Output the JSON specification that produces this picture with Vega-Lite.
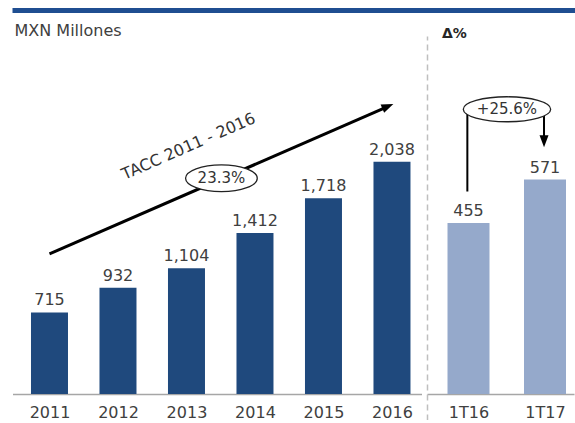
{
  "$schema": "https://vega.github.io/schema/vega-lite/v6.json",
  "padding": {"left": 9.5, "top": 8, "right": 0, "bottom": 0},
  "background": "white",
  "config": {
    "view": {"stroke": null},
    "font": "DejaVu Sans",
    "text": {"font": "DejaVu Sans", "color": "#404040"},
    "title": {"font": "DejaVu Sans", "color": "#404040"}
  },
  "spacing": 10,
  "vconcat": [
    {
      "width": 563,
      "height": 5,
      "data": {"values": [{"linea": "encabezado"}]},
      "mark": {"type": "rule", "color": "#1F4E91", "strokeWidth": 5},
      "encoding": {
        "y": {"datum": 0, "type": "quantitative", "scale": {"domain": [-1, 1]}, "axis": null}
      }
    },
    {
      "spacing": 5.5,
      "hconcat": [
        {
          "width": 409,
          "height": 358,
          "title": {"text": "MXN Millones", "anchor": "start", "fontSize": 16, "fontWeight": "normal", "dx": 2, "offset": -16, "baseline": "alphabetic"},
          "data": {"values": [
            {"anio": 2011, "monto": 715},
            {"anio": 2012, "monto": 932},
            {"anio": 2013, "monto": 1104},
            {"anio": 2014, "monto": 1412},
            {"anio": 2015, "monto": 1718},
            {"anio": 2016, "monto": 2038}
          ]},
          "layer": [
            {
              "mark": {"type": "bar", "size": 37, "color": "#1F497D"},
              "encoding": {
                "x": {"field": "anio", "type": "quantitative",
                  "scale": {"domain": [2010.46, 2016.431], "nice": false, "zero": false, "padding": 0},
                  "axis": {"values": [2011, 2012, 2013, 2014, 2015, 2016], "format": "d", "title": null, "grid": false, "ticks": false,
                    "domainColor": "#A6A6A6", "domainWidth": 1.5, "labelFontSize": 16, "labelColor": "#404040", "labelPadding": 10, "labelFont": "DejaVu Sans"}},
                "y": {"field": "monto", "type": "quantitative", "scale": {"domain": [0, 3140], "nice": false}, "axis": null}
              }
            },
            {
              "mark": {"type": "text", "fontSize": 16, "dy": -7, "baseline": "alphabetic", "color": "#404040"},
              "encoding": {
                "x": {"field": "anio", "type": "quantitative"},
                "y": {"field": "monto", "type": "quantitative"},
                "text": {"field": "monto", "type": "quantitative", "format": ","}
              }
            },
            {
              "data": {"values": [{"x": 2011, "y": 1228}, {"x": 2015.92, "y": 2516}]},
              "mark": {"type": "line", "color": "black", "strokeWidth": 3},
              "encoding": {
                "x": {"field": "x", "type": "quantitative"},
                "y": {"field": "y", "type": "quantitative"}
              }
            },
            {
              "data": {"values": [{"x": 2015.94, "y": 2523}]},
              "mark": {"type": "point", "shape": "M -1 -0.75 L 1 0 L -1 0.75 Z", "filled": true, "color": "black", "opacity": 1, "size": 144, "angle": 336.4},
              "encoding": {
                "x": {"field": "x", "type": "quantitative"},
                "y": {"field": "y", "type": "quantitative"}
              }
            },
            {
              "data": {"values": [{"x": 2013.51, "y": 1892, "etiqueta": "23.3%"}]},
              "layer": [
                {
                  "mark": {"type": "point", "shape": "M -1 0 A 1 0.372 0 1 0 1 0 A 1 0.372 0 1 0 -1 0 Z", "filled": false, "fill": "white", "fillOpacity": 1, "stroke": "#222222", "strokeWidth": 1.3, "opacity": 1, "size": 5141},
                  "encoding": {
                    "x": {"field": "x", "type": "quantitative"},
                    "y": {"field": "y", "type": "quantitative"}
                  }
                },
                {
                  "mark": {"type": "text", "fontSize": 15, "baseline": "middle", "align": "center", "color": "#333333"},
                  "encoding": {
                    "x": {"field": "x", "type": "quantitative"},
                    "y": {"field": "y", "type": "quantitative"},
                    "text": {"field": "etiqueta"}
                  }
                }
              ]
            },
            {
              "data": {"values": [{"x": 2013.03, "y": 2171, "etiqueta": "TACC 2011 - 2016"}]},
              "mark": {"type": "text", "fontSize": 16, "baseline": "middle", "align": "center", "angle": 336.4, "color": "#333333"},
              "encoding": {
                "x": {"field": "x", "type": "quantitative"},
                "y": {"field": "y", "type": "quantitative"},
                "text": {"field": "etiqueta"}
              }
            }
          ]
        },
        {
          "width": 147,
          "height": 384,
          "title": {"text": "Δ%", "anchor": "start", "fontSize": 14, "fontWeight": "bold", "dx": 15, "offset": -16, "baseline": "alphabetic", "color": "#262626"},
          "data": {"values": [
            {"periodo": "1T16", "pos": 1, "monto": 455},
            {"periodo": "1T17", "pos": 2, "monto": 571}
          ]},
          "layer": [
            {
              "mark": {"type": "bar", "size": 42, "color": "#95A9CB"},
              "encoding": {
                "x": {"field": "pos", "type": "quantitative",
                  "scale": {"domain": [0.4575, 2.379], "nice": false, "zero": false, "padding": 0},
                  "axis": {"values": [1, 2], "labelExpr": "datum.value == 1 ? '1T16' : '1T17'", "title": null, "grid": false, "ticks": false, "offset": -26,
                    "domainColor": "#A6A6A6", "domainWidth": 1.5, "labelFontSize": 16, "labelColor": "#404040", "labelPadding": 10, "labelFont": "DejaVu Sans"}},
                "y": {"field": "monto", "type": "quantitative", "scale": {"domain": [-69.2, 953], "nice": false, "zero": false},
                  "axis": {"title": null, "labels": false, "ticks": false, "grid": false, "domainColor": "#BFBFBF", "domainWidth": 1.5, "domainDash": [6, 4]}}
              }
            },
            {
              "mark": {"type": "text", "fontSize": 16, "dy": -7, "baseline": "alphabetic", "color": "#404040"},
              "encoding": {
                "x": {"field": "pos", "type": "quantitative"},
                "y": {"field": "monto", "type": "quantitative"},
                "text": {"field": "monto", "type": "quantitative", "format": ","}
              }
            },
            {
              "data": {"values": [
                {"orden": 1, "pos": 0.985, "monto": 539},
                {"orden": 2, "pos": 0.985, "monto": 758},
                {"orden": 3, "pos": 1.987, "monto": 758},
                {"orden": 4, "pos": 1.987, "monto": 682}
              ]},
              "mark": {"type": "line", "color": "black", "strokeWidth": 2},
              "encoding": {
                "x": {"field": "pos", "type": "quantitative"},
                "y": {"field": "monto", "type": "quantitative"},
                "order": {"field": "orden", "type": "quantitative"}
              }
            },
            {
              "data": {"values": [{"pos": 1.987, "monto": 673}]},
              "mark": {"type": "point", "shape": "M -0.75 -1 L 0.75 -1 L 0 1 Z", "filled": true, "color": "black", "opacity": 1, "size": 144},
              "encoding": {
                "x": {"field": "pos", "type": "quantitative"},
                "y": {"field": "monto", "type": "quantitative"}
              }
            },
            {
              "data": {"values": [{"pos": 1.503, "monto": 758, "etiqueta": "+25.6%"}]},
              "layer": [
                {
                  "mark": {"type": "point", "shape": "M -1 0 A 1 0.286 0 1 0 1 0 A 1 0.286 0 1 0 -1 0 Z", "filled": false, "fill": "white", "fillOpacity": 1, "stroke": "#222222", "strokeWidth": 1.3, "opacity": 1, "size": 7639},
                  "encoding": {
                    "x": {"field": "pos", "type": "quantitative"},
                    "y": {"field": "monto", "type": "quantitative"}
                  }
                },
                {
                  "mark": {"type": "text", "fontSize": 15, "baseline": "middle", "align": "center", "color": "#333333"},
                  "encoding": {
                    "x": {"field": "pos", "type": "quantitative"},
                    "y": {"field": "monto", "type": "quantitative"},
                    "text": {"field": "etiqueta"}
                  }
                }
              ]
            }
          ]
        }
      ]
    }
  ]
}
